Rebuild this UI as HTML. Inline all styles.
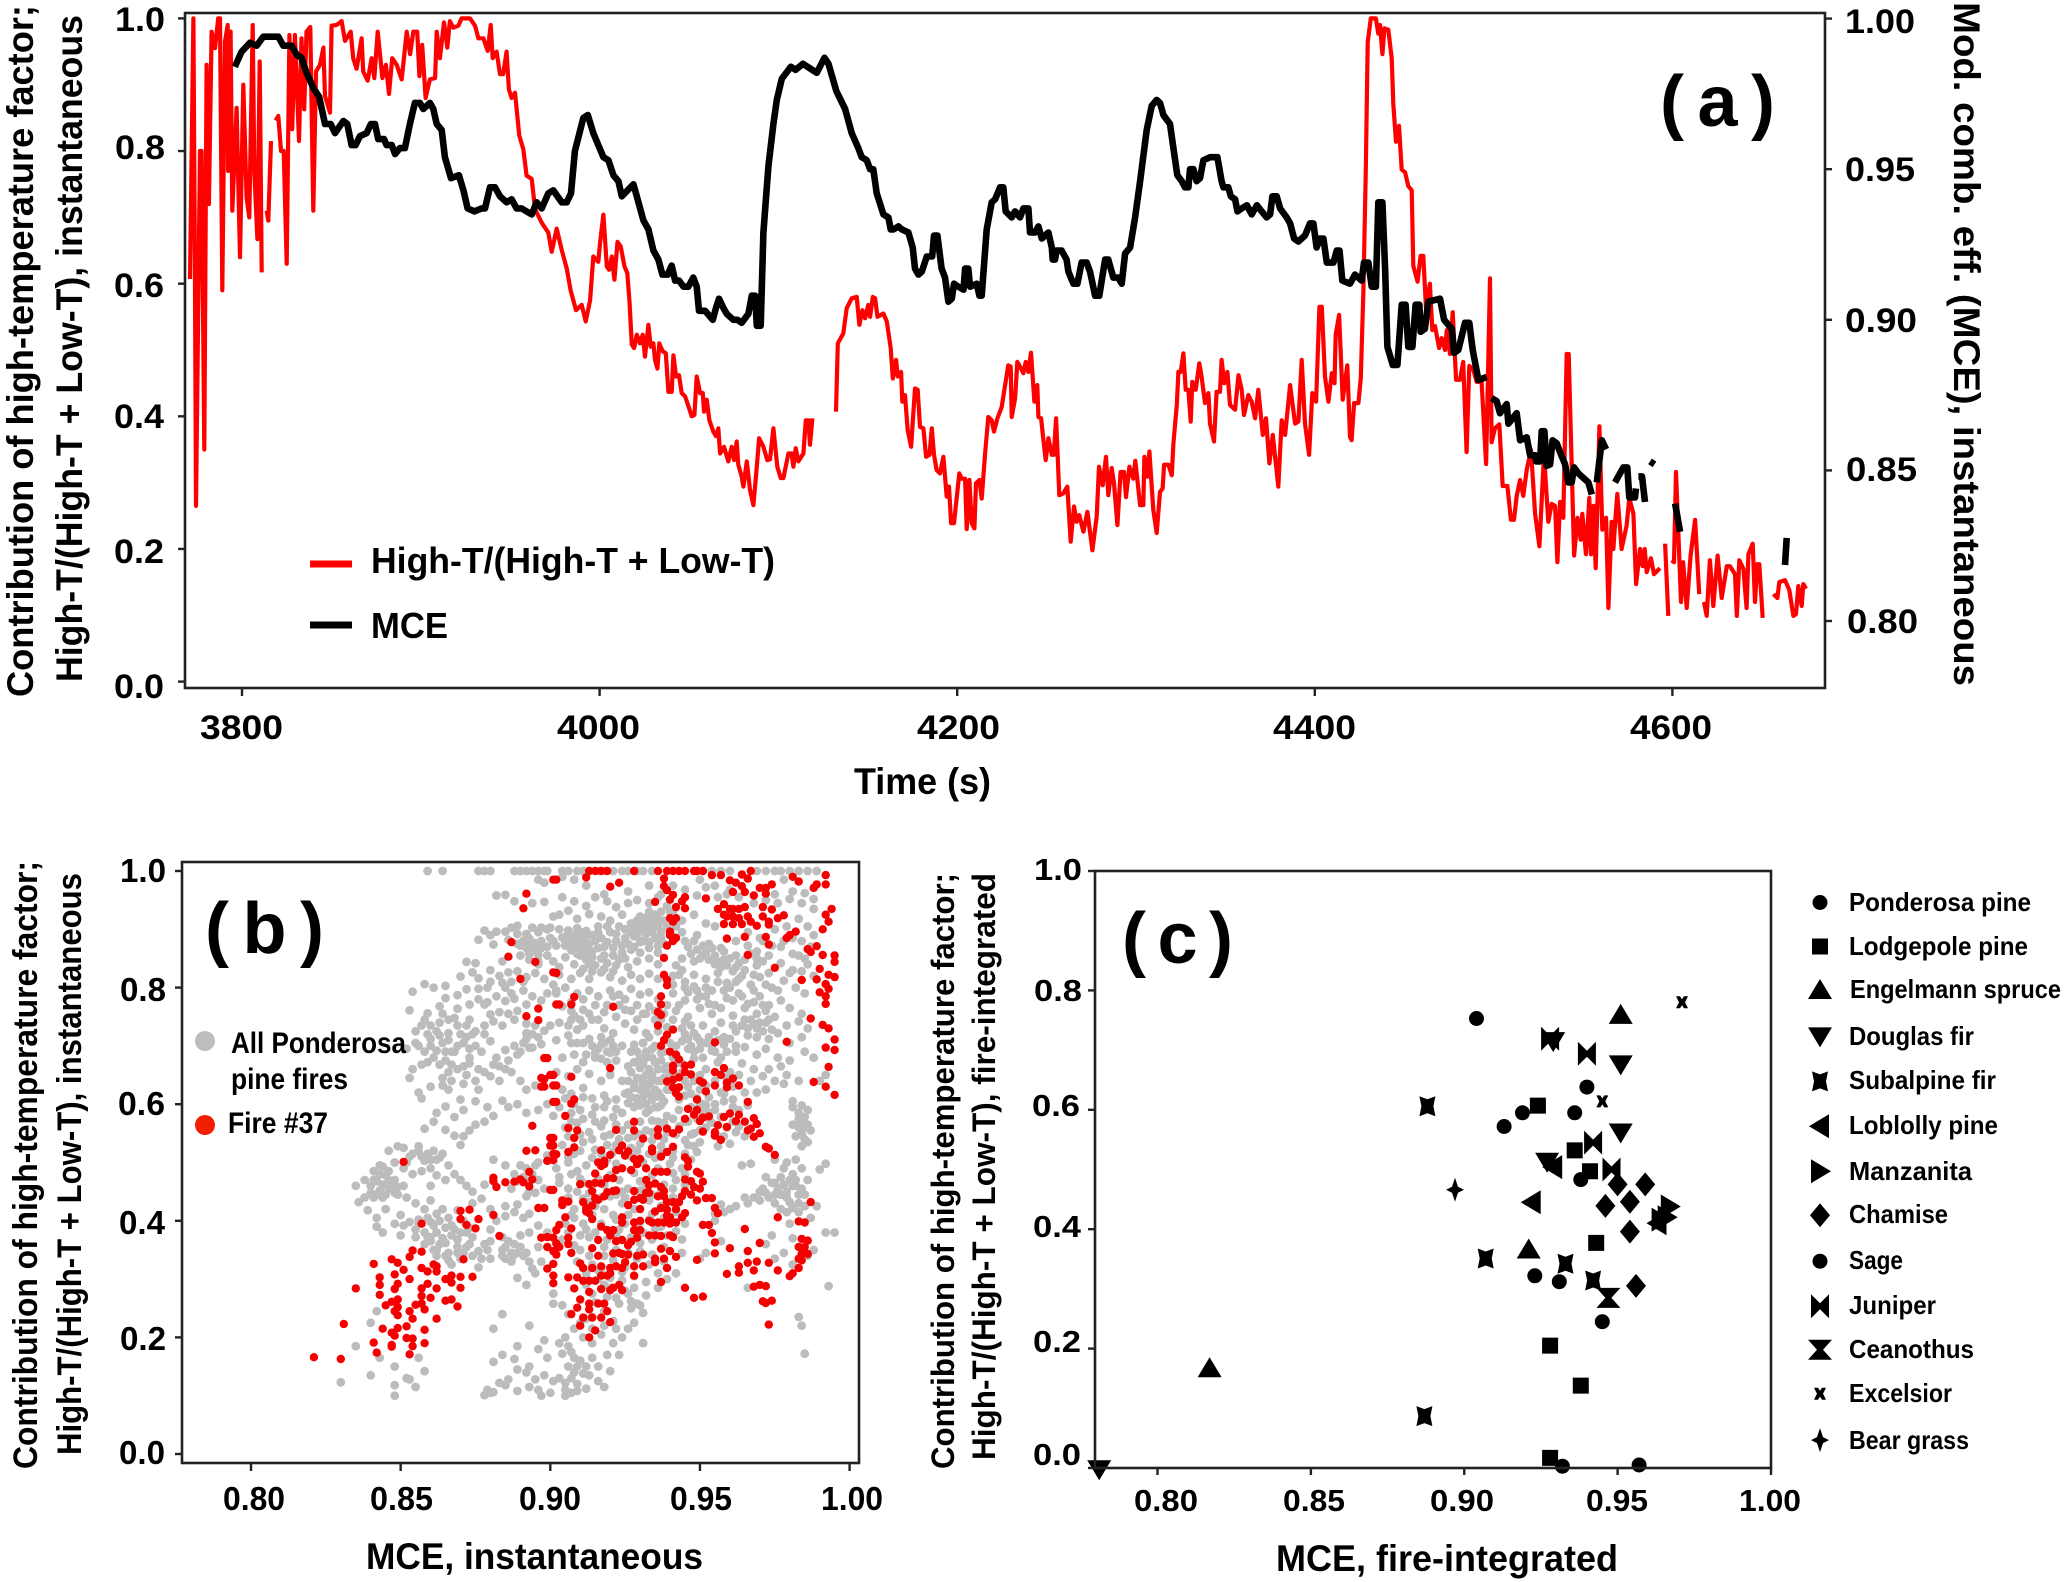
<!DOCTYPE html>
<html lang="en">
<head>
<meta charset="utf-8">
<title>High-temperature factor versus MCE</title>
<style>
html,body{margin:0;padding:0;background:#fff;}
svg{display:block;}
text{font-family:"Liberation Sans",sans-serif;font-weight:bold;fill:#000;}
.tick-a{font-size:34px;}
.tick-b{font-size:33px;}
.tick-c{font-size:31px;}
.title-a{font-size:37px;}
.title-b{font-size:34px;}
.title-c{font-size:32px;}
.xtitle{font-size:37px;}
.leg-a{font-size:36px;}
.leg-b{font-size:30px;}
.leg-c{font-size:26px;}
.panel{font-size:72px;}
</style>
</head>
<body>
<svg id="figure" xmlns="http://www.w3.org/2000/svg" width="2067" height="1582" viewBox="0 0 2067 1582">
<rect x="0" y="0" width="2067" height="1582" fill="#fff"/>
<g id="marks-a"></g>
<g id="marks-b"></g>
<g id="marks-c"></g>
<rect x="185" y="13" width="1640" height="675" fill="none" stroke="#222" stroke-width="2.6"/>
<rect x="182" y="862" width="677" height="601" fill="none" stroke="#222" stroke-width="2.6"/>
<rect x="1095" y="871" width="676" height="597" fill="none" stroke="#222" stroke-width="2.6"/>
<g id="ticks"></g>

<g>
<text class="tick-a" x="115" y="31" textLength="50" lengthAdjust="spacingAndGlyphs">1.0</text>
<text class="tick-a" x="115" y="159" textLength="50" lengthAdjust="spacingAndGlyphs">0.8</text>
<text class="tick-a" x="114" y="297" textLength="50" lengthAdjust="spacingAndGlyphs">0.6</text>
<text class="tick-a" x="114" y="428" textLength="50" lengthAdjust="spacingAndGlyphs">0.4</text>
<text class="tick-a" x="114" y="563" textLength="50" lengthAdjust="spacingAndGlyphs">0.2</text>
<text class="tick-a" x="114" y="698" textLength="50" lengthAdjust="spacingAndGlyphs">0.0</text>
</g>
<g>
<text class="tick-a" x="1845" y="33" textLength="70" lengthAdjust="spacingAndGlyphs">1.00</text>
<text class="tick-a" x="1845" y="181" textLength="70" lengthAdjust="spacingAndGlyphs">0.95</text>
<text class="tick-a" x="1845" y="332" textLength="72" lengthAdjust="spacingAndGlyphs">0.90</text>
<text class="tick-a" x="1846" y="481" textLength="71" lengthAdjust="spacingAndGlyphs">0.85</text>
<text class="tick-a" x="1847" y="633" textLength="71" lengthAdjust="spacingAndGlyphs">0.80</text>
</g>
<g>
<text class="tick-a" x="200" y="739" textLength="83" lengthAdjust="spacingAndGlyphs">3800</text>
<text class="tick-a" x="557" y="739" textLength="83" lengthAdjust="spacingAndGlyphs">4000</text>
<text class="tick-a" x="917" y="739" textLength="83" lengthAdjust="spacingAndGlyphs">4200</text>
<text class="tick-a" x="1273" y="739" textLength="83" lengthAdjust="spacingAndGlyphs">4400</text>
<text class="tick-a" x="1630" y="739" textLength="82" lengthAdjust="spacingAndGlyphs">4600</text>
</g>
<text class="title-a" transform="translate(33,697) rotate(-90)" textLength="692" lengthAdjust="spacingAndGlyphs">Contribution of high-temperature factor;</text>
<text class="title-a" transform="translate(82,682) rotate(-90)" textLength="667" lengthAdjust="spacingAndGlyphs">High-T/(High-T + Low-T), instantaneous</text>
<text class="title-a" transform="translate(1954,2) rotate(90)" textLength="684" lengthAdjust="spacingAndGlyphs">Mod. comb. eff. (MCE), instantaneous</text>
<text class="xtitle" x="854" y="794" textLength="137" lengthAdjust="spacingAndGlyphs">Time (s)</text>
<text class="panel" x="1660" y="126" textLength="115" lengthAdjust="spacing">( a )</text>
<line x1="310" y1="564" x2="352" y2="564" stroke="#f00" stroke-width="7"/>
<line x1="310" y1="625" x2="352" y2="625" stroke="#000" stroke-width="7"/>
<text class="leg-a" x="371" y="573" textLength="404" lengthAdjust="spacingAndGlyphs">High-T/(High-T + Low-T)</text>
<text class="leg-a" x="371" y="638" textLength="77" lengthAdjust="spacingAndGlyphs">MCE</text>

<g>
<text class="tick-b" x="120" y="882" textLength="46" lengthAdjust="spacingAndGlyphs">1.0</text>
<text class="tick-b" x="120" y="1001" textLength="46" lengthAdjust="spacingAndGlyphs">0.8</text>
<text class="tick-b" x="118" y="1115" textLength="47" lengthAdjust="spacingAndGlyphs">0.6</text>
<text class="tick-b" x="119" y="1234" textLength="46" lengthAdjust="spacingAndGlyphs">0.4</text>
<text class="tick-b" x="120" y="1350" textLength="46" lengthAdjust="spacingAndGlyphs">0.2</text>
<text class="tick-b" x="119" y="1464" textLength="46" lengthAdjust="spacingAndGlyphs">0.0</text>
</g>
<g>
<text class="tick-b" x="223" y="1510" textLength="62" lengthAdjust="spacingAndGlyphs">0.80</text>
<text class="tick-b" x="370" y="1510" textLength="63" lengthAdjust="spacingAndGlyphs">0.85</text>
<text class="tick-b" x="519" y="1510" textLength="62" lengthAdjust="spacingAndGlyphs">0.90</text>
<text class="tick-b" x="670" y="1510" textLength="62" lengthAdjust="spacingAndGlyphs">0.95</text>
<text class="tick-b" x="821" y="1510" textLength="62" lengthAdjust="spacingAndGlyphs">1.00</text>
</g>
<text class="title-b" transform="translate(37,1469) rotate(-90)" textLength="608" lengthAdjust="spacingAndGlyphs">Contribution of high-temperature factor;</text>
<text class="title-b" transform="translate(81,1455) rotate(-90)" textLength="582" lengthAdjust="spacingAndGlyphs">High-T/(High-T + Low-T), instantaneous</text>
<text class="xtitle" x="366" y="1569" textLength="337" lengthAdjust="spacingAndGlyphs">MCE, instantaneous</text>
<text class="panel" x="205" y="953" textLength="119" lengthAdjust="spacing">( b )</text>
<circle cx="205" cy="1041" r="10" fill="#bdbdbd"/>
<text class="leg-b" x="231" y="1053" textLength="175" lengthAdjust="spacingAndGlyphs">All Ponderosa</text>
<text class="leg-b" x="231" y="1089" textLength="117" lengthAdjust="spacingAndGlyphs">pine fires</text>
<circle cx="205" cy="1125" r="10" fill="#f31d00"/>
<text class="leg-b" x="228" y="1133" textLength="100" lengthAdjust="spacingAndGlyphs">Fire #37</text>

<g>
<text class="tick-c" x="1034" y="880" textLength="48" lengthAdjust="spacingAndGlyphs">1.0</text>
<text class="tick-c" x="1034" y="1001" textLength="48" lengthAdjust="spacingAndGlyphs">0.8</text>
<text class="tick-c" x="1032" y="1116" textLength="48" lengthAdjust="spacingAndGlyphs">0.6</text>
<text class="tick-c" x="1033" y="1237" textLength="48" lengthAdjust="spacingAndGlyphs">0.4</text>
<text class="tick-c" x="1033" y="1352" textLength="48" lengthAdjust="spacingAndGlyphs">0.2</text>
<text class="tick-c" x="1033" y="1465" textLength="48" lengthAdjust="spacingAndGlyphs">0.0</text>
</g>
<g>
<text class="tick-c" x="1134" y="1511" textLength="64" lengthAdjust="spacingAndGlyphs">0.80</text>
<text class="tick-c" x="1283" y="1511" textLength="62" lengthAdjust="spacingAndGlyphs">0.85</text>
<text class="tick-c" x="1430" y="1511" textLength="64" lengthAdjust="spacingAndGlyphs">0.90</text>
<text class="tick-c" x="1586" y="1511" textLength="62" lengthAdjust="spacingAndGlyphs">0.95</text>
<text class="tick-c" x="1739" y="1511" textLength="62" lengthAdjust="spacingAndGlyphs">1.00</text>
</g>
<text class="title-c" transform="translate(954,1469) rotate(-90)" textLength="596" lengthAdjust="spacingAndGlyphs">Contribution of high-temperature factor;</text>
<text class="title-c" transform="translate(995,1460) rotate(-90)" textLength="587" lengthAdjust="spacingAndGlyphs">High-T/(High-T + Low-T), fire-integrated</text>
<text class="xtitle" x="1276" y="1571" textLength="342" lengthAdjust="spacingAndGlyphs">MCE, fire-integrated</text>
<text class="panel" x="1122" y="963" textLength="111" lengthAdjust="spacing">( c )</text>
<g>
<text class="leg-c" x="1849" y="911" textLength="182" lengthAdjust="spacingAndGlyphs">Ponderosa pine</text>
<text class="leg-c" x="1849" y="955" textLength="179" lengthAdjust="spacingAndGlyphs">Lodgepole pine</text>
<text class="leg-c" x="1850" y="998" textLength="211" lengthAdjust="spacingAndGlyphs">Engelmann spruce</text>
<text class="leg-c" x="1849" y="1045" textLength="125" lengthAdjust="spacingAndGlyphs">Douglas fir</text>
<text class="leg-c" x="1849" y="1089" textLength="147" lengthAdjust="spacingAndGlyphs">Subalpine fir</text>
<text class="leg-c" x="1849" y="1134" textLength="149" lengthAdjust="spacingAndGlyphs">Loblolly pine</text>
<text class="leg-c" x="1849" y="1180" textLength="123" lengthAdjust="spacingAndGlyphs">Manzanita</text>
<text class="leg-c" x="1849" y="1223" textLength="99" lengthAdjust="spacingAndGlyphs">Chamise</text>
<text class="leg-c" x="1849" y="1269" textLength="54" lengthAdjust="spacingAndGlyphs">Sage</text>
<text class="leg-c" x="1849" y="1314" textLength="87" lengthAdjust="spacingAndGlyphs">Juniper</text>
<text class="leg-c" x="1849" y="1358" textLength="125" lengthAdjust="spacingAndGlyphs">Ceanothus</text>
<text class="leg-c" x="1849" y="1402" textLength="103" lengthAdjust="spacingAndGlyphs">Excelsior</text>
<text class="leg-c" x="1849" y="1449" textLength="120" lengthAdjust="spacingAndGlyphs">Bear grass</text>
</g>
</svg>

<script>
// ---------- Panel (a): time series, flat [time, value, time, value, ...] ----------
const redEarly = [3770.9,.607,3772.8,1,3773.7,.6,3774.3,.265,3776.5,.8,3777.4,.8,3778.9,.35,3780.2,.93,3781.5,.72,3783,.98,3784.9,.955,3786.7,1,3787.7,1,3789,.59,3790.5,.965,3792,.99,3792.2,.77,3793.6,.98,3794.6,.71,3797,.865,3798.9,.64,3800.7,.9,3802.6,.73,3804.1,.7,3806,.99,3806.9,.77,3808.6,.667,3809.9,.935,3811,.617];
const redShort = [3813.8,.71,3814.7,.695,3816.2,.815];
const redUpperArc = [3818.8,.846,3820.3,.853,3821.8,.8,3823.3,.8,3825,.63,3826.5,.975,3828.1,.833,3829.6,.975,3831.9,.815,3833.3,.97,3834.8,.863,3836.1,.98,3838.2,.987,3839.9,.71,3841.4,.92,3843.6,.93,3845.5,.956,3846.4,.883,3849.2,.858,3850.1,.989,3852.9,.99,3855.7,.996,3857.6,.966,3860.8,.98,3862.2,.94,3864.1,.924,3866.9,.97,3867.8,.92,3870.3,.906,3872.5,.94,3874,.91,3875.9,.98,3878.5,.91,3880.5,.93,3882.2,.886,3884,.94,3886.5,.93,3889.3,.908,3892.1,.98,3894,.946,3895.8,.98,3898,.98,3899.2,.913,3900.8,.96,3902.7,.88,3905.1,.908,3908,.91,3908.9,.98,3910.7,.94,3913,.994,3914.8,.956,3916.3,.996,3918.2,.986,3921,.989,3922.8,1,3927.5,1,3930.3,.989,3932.2,.97,3935,.97,3937.4,.951,3939.1,.99,3940.2,.94,3942.4,.95,3944.3,.916,3946.1,.916,3948,.95,3949.3,.893,3950.8,.88,3952.7,.888,3955.1,.823,3957.3,.803,3959.2,.763,3962,.758,3963.9,.712,3967.6,.692,3971.3,.677,3973.2,.648,3976,.683,3978.8,.651,3981.6,.623,3983.8,.59,3986.8,.56,3990,.568,3992.2,.543,3994.7,.575,3996.5,.641,3999.3,.633,4000.2,.661,4002.1,.704,4004,.626,4005.3,.621,4006.8,.641,4008.3,.606,4010,.663,4011.8,.656,4013.9,.626,4015.5,.616,4016.7,.573,4018,.508,4019.3,.503,4020.8,.523,4022.6,.51,4024.1,.523,4025.4,.49,4027.3,.538,4028.6,.505,4030.1,.51,4031,.485,4032.3,.472,4033.4,.51,4035.3,.498,4037,.495,4038.5,.437,4040.3,.437,4041.3,.492,4042.8,.46,4044.4,.462,4045.9,.435,4047.8,.43,4049.1,.42,4051.5,.4,4053,.402,4054.3,.46,4056.2,.435,4057.7,.435,4058.4,.407,4059.9,.425,4061.4,.394,4063.6,.377,4065.1,.37,4066.4,.382,4067.4,.344,4069.6,.354,4072,.332,4073.9,.354,4075.2,.334,4076.7,.362,4077.6,.327,4079.5,.309,4080.4,.294,4082.3,.332,4084.1,.289,4086,.266,4087.9,.324,4089.2,.367,4091.6,.354,4093.8,.334,4095.3,.335,4097.2,.382,4099.4,.324,4101.3,.307,4102.8,.307,4105.6,.344,4107.4,.344,4108.4,.324,4109.7,.352,4111.2,.332,4114,.344,4115.3,.394,4116.8,.394,4117.7,.357,4119,.397];
const redMiddle = [4132.2,.407,4133.2,.51,4136.3,.525,4138.2,.563,4141,.578,4143.8,.58,4145.3,.538,4147,.56,4148.5,.548,4150.3,.568,4151.3,.55,4152.8,.58,4154.1,.578,4155.4,.55,4158.7,.555,4160.6,.543,4162.8,.503,4164,.457,4165.8,.485,4166.7,.46,4168.6,.467,4169.3,.422,4170.8,.432,4172.3,.379,4174.2,.354,4176.4,.442,4177.9,.44,4179.2,.384,4181.1,.382,4182.6,.339,4184.5,.342,4185.8,.382,4187,.342,4188.5,.319,4190.4,.314,4192.3,.339,4194.1,.279,4195.4,.294,4196.6,.239,4198.2,.239,4201.2,.314,4202.5,.306,4204.4,.306,4205.3,.23,4206.8,.304,4208.1,.239,4209.6,.231,4210.5,.299,4212.4,.304,4213.7,.276,4215.6,.344,4217.4,.399,4219.3,.394,4220.6,.377,4222.5,.397,4224.9,.414,4226.8,.447,4228.6,.477,4229.9,.475,4230.5,.399,4232.4,.427,4233.6,.482,4235.1,.475,4237,.465,4238.3,.482,4239.8,.467,4241.3,.496,4243.2,.422,4244.8,.447,4245.4,.399,4246.9,.397,4248.2,.364,4249.5,.334,4251,.367,4252.9,.342,4254,.342,4255.3,.397,4257.1,.281,4259.4,.284,4261.6,.294,4263.5,.211,4265.3,.264,4266.8,.241,4268.3,.251,4270.6,.226,4272.8,.256,4275.6,.198,4278,.249,4279.3,.324,4281.4,.296,4283.2,.339,4284.5,.281,4286.4,.322,4287.7,.299,4289.6,.236,4291.4,.316,4293.3,.316,4294.4,.278,4296.3,.324,4298.5,.306,4299.6,.333,4302.3,.266,4304.1,.266,4304.7,.339,4306.4,.309,4307.5,.347,4309.7,.259,4311.6,.224,4313.4,.286,4314.9,.291,4315.7,.327,4318.1,.327,4320,.311,4320.9,.359,4322.8,.417,4323.7,.467,4325,.467,4326.5,.495,4327.8,.44,4329.3,.44,4330.6,.392,4331.5,.452,4333.4,.44,4335.4,.48,4336.7,.46,4338.6,.42,4340.5,.435,4341.4,.389,4343.6,.362,4345.1,.437,4347,.437,4347.9,.485,4349.4,.45,4351.1,.467,4352.6,.417,4355.4,.41,4357.3,.462,4359.1,.44,4360.4,.402,4362.8,.432,4364.7,.422,4366.6,.397,4368.4,.44,4370.9,.372,4372.7,.397,4374.6,.329,4376.5,.372,4377.8,.339,4379.6,.294,4381.5,.394,4383.4,.372,4386.2,.447,4389,.389,4390.8,.392,4392.7,.485,4394.5,.389,4396.8,.342,4398.6,.435,4400.7,.422,4402.6,.565,4403.9,.565,4405.7,.46,4407.6,.422,4409.5,.465,4411,.45,4411.7,.523,4413.6,.553,4415.6,.425,4418.2,.477,4419.7,.369,4420.6,.364,4422,.42,4424.4,.42,4425.7,.458,4427.2,.59,4428.5,.772,4429.6,.964,4431.3,1,4434.2,1,4435.5,.977,4436.5,.99,4437.8,.946,4438.9,.985,4441.1,.983,4443,.94,4443.9,.871,4445.4,.814,4447.1,.838,4448.6,.772,4450.5,.768,4452.3,.747,4454.2,.741,4455.1,.627,4457.5,.603,4459.2,.642,4460.7,.642,4462.2,.563,4464.4,.6,4465.7,.53,4467.2,.536,4469.5,.503,4471,.518,4472.8,.5,4473.8,.53,4475.6,.494,4477.1,.557,4479,.455,4481.2,.455,4483,.482,4484.9,.346,4486.4,.476,4488.7,.47,4490.5,.452,4493.3,.452,4495.8,.328,4498,.608,4498.9,.361,4500.8,.382,4503.2,.388,4505.1,.295,4507.7,.295,4509.7,.244,4511.4,.244,4512.9,.28,4514.8,.304,4516.6,.28,4518.5,.319,4520.9,.349,4523.2,.253,4525.6,.204,4528.2,.343,4530.6,.241,4532.5,.268,4534.4,.265,4535.7,.18,4537.2,.271,4539,.247,4540.9,.494,4542,.494,4545,.19,4546.9,.247,4548.7,.214,4549.6,.253,4551.7,.192,4553.5,.277,4554.5,.192,4555.8,.265,4557.1,.171,4559.2,.385,4560.8,.229,4562.9,.247,4564.2,.111,4566,.241,4567,.2,4568,.241,4569.2,.283,4571.6,.2,4574.4,.235,4575.9,.277,4578.2,.253,4579.7,.147,4581.9,.2,4583.4,.174,4584.5,.2,4585.6,.165,4588,.186,4589.7,.162,4593,.171];
const redTailA = [4595.9,.208,4597.7,.099];
const redTailB = [4599.6,.183,4600.9,.18,4602,.316,4604.8,.12,4606,.18,4608,.111,4610.2,.19,4612.7,.244,4615,.132];
const redTailC = [4617.7,.12,4619.2,.099,4621,.183,4622.9,.114,4625.3,.19,4627.6,.126,4630.4,.174,4632.2,.174,4635,.162,4636,.099,4637.4,.183,4639.7,.17,4641.5,.111,4642.5,.192,4644.9,.208,4646.2,.12,4647.5,.177,4648.6,.177,4650.5,.096];
const redTailD = [4656.5,.132,4658.7,.126,4659.8,.15,4663,.153,4665.4,.138,4667.7,.099,4669.1,.102,4670.4,.144,4672.3,.114,4673.2,.147,4674.7,.14];
const redSegments = [redEarly, redShort, redUpperArc, redMiddle, redTailA, redTailB, redTailC, redTailD];

const mceMain = [3796,.984,3799.8,.989,3804.5,.992,3808.2,.991,3811.9,.994,3820.3,.994,3823.1,.991,3827.8,.991,3830.6,.988,3833.3,.987,3836.1,.982,3839.9,.977,3843.2,.974,3846.4,.965,3849.6,.965,3852,.962,3856.7,.966,3858.9,.965,3861.3,.958,3863.5,.958,3866,.961,3869.7,.962,3872.1,.965,3874.4,.965,3876.2,.96,3879.4,.96,3880.9,.958,3883.7,.958,3885.6,.955,3888.3,.957,3891.1,.957,3893.9,.965,3896.7,.972,3899.5,.972,3901.4,.97,3905.1,.972,3907,.97,3908.9,.965,3911.7,.963,3913.5,.954,3916.9,.947,3921.3,.948,3923.8,.943,3926.2,.937,3929.9,.936,3934,.937,3935.9,.937,3938.7,.944,3941.5,.944,3944.3,.941,3948,.939,3950.8,.94,3953.6,.937,3956.4,.937,3962,.935,3964.8,.939,3967.6,.937,3971.3,.942,3974.1,.943,3978.8,.939,3981.6,.939,3984,.942,3986.2,.956,3990.9,.967,3993.4,.968,3996.5,.962,3999.3,.958,4002.1,.954,4004.9,.953,4007.7,.948,4010.5,.946,4012.4,.941,4018.9,.945,4020.8,.941,4024.5,.933,4027.3,.93,4030.1,.923,4032.9,.92,4035.1,.915,4038.1,.915,4040.3,.918,4042.2,.913,4044.4,.913,4046.9,.911,4049.6,.911,4052.4,.914,4054.3,.911,4055.6,.903,4059,.903,4063.3,.9,4065.1,.904,4066.8,.907,4069.2,.904,4071.1,.902,4074.8,.9,4077.1,.9,4079.5,.899,4083.2,.902,4085.1,.908,4087,.908,4087.9,.898,4090.1,.898,4091.6,.929,4094.4,.951,4097.2,.965,4099.1,.973,4101.9,.98,4107,.984,4109.6,.983,4113.7,.985,4121.5,.982,4125.8,.987,4128,.985,4132.4,.976,4137.3,.97,4141,.962,4144.7,.957,4146.6,.954,4149.4,.953,4151.3,.95,4153.1,.95,4155,.942,4158.7,.935,4161.5,.934,4162.8,.93,4164.3,.93,4167.1,.931,4169,.93,4172.7,.929,4175.1,.924,4176.4,.917,4178.3,.915,4180.2,.916,4183,.921,4186,.921,4187,.928,4188.9,.928,4191.3,.917,4193.2,.914,4195.1,.906,4197,.907,4198.2,.912,4200.6,.911,4203.5,.91,4204.4,.917,4206.2,.917,4207.2,.911,4210.9,.912,4212.4,.908,4213.7,.908,4216.5,.93,4219.3,.939,4221.2,.94,4224,.944,4225.8,.944,4227.1,.936,4230.5,.934,4232.3,.936,4235.1,.934,4237,.937,4239.8,.937,4240.7,.929,4243.5,.929,4245.4,.931,4247.3,.927,4251,.929,4252.9,.924,4253.4,.92,4254.7,.92,4255.6,.923,4258.4,.923,4261.2,.92,4262.2,.916,4265,.912,4267.2,.912,4269.6,.919,4272.4,.919,4274.3,.916,4277.1,.908,4279.5,.908,4282.7,.92,4284.5,.92,4287.3,.914,4290.1,.914,4292,.912,4293.9,.922,4296.7,.924,4299.5,.934,4302.3,.946,4306,.963,4308.8,.971,4311.6,.973,4313.4,.972,4315.3,.968,4319,.965,4320.9,.957,4323.1,.948,4325.6,.946,4327.4,.944,4329.3,.944,4330.2,.95,4332.1,.95,4333.9,.946,4335.8,.947,4337.7,.953,4341.4,.954,4343.3,.954,4345.5,.954,4347.9,.946,4348.9,.944,4351.6,.944,4353,.941,4355.4,.94,4356.7,.936,4359.1,.937,4362,.938,4364.7,.935,4367.6,.938,4370.3,.936,4373.1,.934,4375,.935,4376.3,.941,4378.7,.941,4380.6,.937,4384.3,.934,4386.2,.932,4388.4,.927,4390.8,.926,4394.5,.928,4397.3,.932,4399.2,.932,4401,.924,4402.9,.927,4404.8,.927,4406.7,.919,4410.4,.919,4412.3,.923,4413.8,.923,4415.4,.913,4419.7,.912,4422.5,.915,4426.2,.913,4427.5,.919,4430,.919,4431.8,.911,4434.2,.911,4435.5,.939,4437.8,.939,4439.3,.917,4440.6,.891,4443.6,.885,4446.2,.885,4448.6,.905,4450.8,.905,4452.3,.891,4454.6,.891,4456.4,.905,4458.5,.905,4459.2,.896,4461.6,.897,4463.5,.906,4470,.907,4472.3,.9,4476.6,.897,4477.9,.889,4480.3,.89,4484,.899,4486.4,.899,4488.3,.89,4491.5,.88,4496.1,.881];
const mceLowerRun = [4498.9,.874,4501.7,.873,4503.6,.869,4507.3,.872,4508.3,.8655,4512.9,.869,4514.8,.86,4518.5,.861,4520.4,.855,4523.2,.855,4523.8,.853,4526,.853,4526.9,.863,4528.4,.863,4529.7,.8515,4531.6,.852,4533,.86,4535.3,.859,4537.2,.856,4540,.852,4541.8,.846,4543.7,.846,4545,.851,4547.4,.849,4549.3,.848,4553,.846,4554.9,.842];
const mceSpike = [4557.7,.846,4560.5,.86,4562.9,.857];
const mceFragmentA = [4567.9,.846,4572.6,.851,4574.8,.851,4575.9,.841,4579.1,.841,4579.6,.844];
const mceFragmentB = [4581,.848,4583,.848,4584.7,.8395];
const mceFragmentC = [4587.5,.853,4590,.852];
const mceFragmentD = [4601.5,.839,4604.3,.8296];
const mceFragmentE = [4663.9,.8276,4663,.8186];
const mceSegments = [mceMain, mceLowerRun, mceSpike, mceFragmentA, mceFragmentB, mceFragmentC, mceFragmentD, mceFragmentE];

// ---------- Panel (b): flat [MCE x1000, fraction x1000, ...] ----------
const grayTopRow = [859,1000,864,1000,876,1000,878,1000,880,1000,888,1000,890,1000,892,1000,894,1000,896,1000,898,1000,899,1000,904,1000,906,1000,909,1000,911,1000,913,1000,916,1000,918,1000,921,1000,924,1000,926,1000,929,1000,931,1000,934,1000,951,1000,954,1000,957,1000,960,1000,969,1000,972,1000,975,1000,977,1000,980,1000,983,1000,986,1000,989,1000,896,985,898,980,904,990,908,985,912,975,918,960,926,965,933,975,937,960,950,985,955,975,959,960,975,960,978,985,981,965,985,962,988,952];
const grayUpperLeft = [854,793,858,806,861,800,865,803,853,761,859,756,865,782,863,768,864,755,869,787,872,797,874,826,872,844,875,842,870,819,876,816,879,800,876,780,878,771,869,764,873,771,873,745,878,735,880,754,883,758,885,777,888,781,892,771,888,745,892,722,894,697,897,703,893,697,890,690,898,726,900,735,882,958,885,959,888,948,894,945,898,947,901,922,878,898,876,882,882,896,885,896,887,903,889,906,894,903,897,903,900,903,881,874,890,872,892,868,894,862,896,856,890,855,893,848,896,845,899,870,901,880,884,845,880,830,883,820,886,826,889,828,892,818,895,825,898,815,901,805,885,800,887,790,891,795,894,785,897,778,899,790,902,795,882,785,856,700,852,695,855,705,858,690,860,712,863,718,866,722,869,700,872,715,875,700,877,690,880,708,882,680,885,693,888,700,891,705,860,735,863,740,866,745,869,735,858,745,855,725,857,668,854,660,853,645,856,620,857,610,860,630,864,645,866,625,869,660,872,650,875,640,878,655,880,648,883,640,885,660,887,655,890,640,892,625,895,632,863,668,867,690,873,670,884,606,870,608,871,590,868,578,865,596,862,585,861,570,858,558,875,605,879,595,881,580,878,570,875,565,873,555,871,545,886,595,889,600,892,585,896,590,899,600,901,580,865,556,868,546,870,530];
const grayMidLeft = [844,493,846,520,849,528,851,525,853,510,856,520,858,503,860,490,862,505,864,515,866,495,868,480,870,470,872,460,874,450,865,470,862,478,860,460,857,485,854,480,851,490,848,500,845,478,843,480,841,470,840,460,842,445,844,440,846,455,849,445,852,440,855,430,851,460,848,470,835,460,838,470,841,485,843,495,846,485,838,440,836,432,839,418,842,405,845,420,850,410,853,398,848,395,842,390,856,402,860,398,862,412,864,420,866,405,869,418,871,400,873,388,874,372,872,380,868,385,865,388,862,380,858,380,855,385,851,392,858,420,860,435,844,380,850,375,855,372,860,365,865,362,869,368,872,355,866,345,862,350,858,360,862,340,866,332,869,345,874,340,876,348,880,335,884,340,887,332,889,345,893,330,890,355,885,355,880,365,884,372,890,375,893,380,896,392,880,420,885,425,889,428,892,442,895,448,898,455,893,468,888,480,890,495,892,490,894,480,896,500,899,512,881,505,885,495,877,438,874,430,878,462];
const grayLowLeft = [835,185,830,123,840,135,848,150,853,128,856,165,858,142,855,115,852,130,843,165,848,118,842,245,840,225,848,100,886,128,883,122,881,106,879,110,878,101,880,105,889,145,892,140,893,150,895,128,893,115,896,110,898,135,901,125,903,130,905,110,909,120,912,112,907,105,905,100,900,105,897,100,889,108,885,118,884,240,881,215,889,185,893,220,898,195,899,165,884,170,881,158,888,163,896,180,895,310,892,290,889,302,887,330,884,350,879,350,876,320,888,360,892,345,896,355,899,380,897,330,901,275,901,258,904,255,906,240,908,215,905,200,903,190,907,175,910,160,912,150,908,140,913,135,918,115,916,125,920,142,919,170,914,190,917,205,921,190,923,170,912,232,924,200,926,215,927,250,925,280,929,258,931,242,928,225,931,190];
const grayCoreHigh = [904,955,908,948,912,940,915,955,919,948,922,938,926,945,929,950,933,945,936,955,903,925,906,932,909,918,913,926,917,922,920,915,924,925,927,910,930,922,933,930,936,918,903,900,906,892,909,902,912,888,916,895,919,905,922,892,925,900,928,888,931,898,934,905,937,885,902,872,905,880,908,868,911,875,914,862,918,870,921,855,924,872,927,865,930,878,933,868,936,872,901,845,905,852,908,840,912,848,915,838,919,842,923,848,926,835,929,845,933,850,936,840,903,822,907,815,910,825,913,815,917,826,920,818,924,812,927,822,930,815,933,824,936,815,902,790,905,800,909,790,913,795,916,785,920,795,923,788,927,798,930,788,933,792,936,780,904,768,907,775,911,762,915,770,918,758,922,750,925,762,929,770,932,755,935,745,938,755,903,740,907,745,911,735,914,745,918,730,921,722,925,738,928,728,932,722,936,725,939,732,902,710,906,718,909,705,913,712,917,702,920,710,924,700,927,690,931,705,934,695,937,688,904,680,908,685,911,672,915,680,919,690,922,675,926,665,929,672,932,680,935,672,938,660,941,680,902,655,906,648,909,660,913,652,917,640,920,650,924,640,928,635,931,645,934,650,937,640,940,625,904,625,907,618,911,628,914,610,918,615,922,608,925,618,929,610,932,625,935,612,938,605];
const grayCoreLow = [903,595,907,585,910,590,914,582,918,595,921,578,924,585,928,595,932,585,936,595,939,580,943,590,905,560,909,568,913,552,917,562,920,548,924,555,928,545,932,555,936,570,939,552,943,562,947,548,904,530,908,515,911,535,915,522,919,530,923,540,927,525,930,532,934,538,937,528,941,520,945,538,948,528,902,490,906,500,909,485,912,495,919,505,922,498,927,510,931,500,935,508,940,498,944,490,947,505,903,465,906,455,910,472,913,448,918,462,923,470,926,455,930,468,934,478,938,462,942,470,945,480,904,430,908,420,911,438,915,425,920,442,924,430,928,420,933,435,937,425,941,440,905,395,908,405,912,385,917,395,921,410,925,395,929,385,933,402,937,390,942,382,904,368,908,358,913,372,918,355,922,375,926,362,930,348,934,368,938,355,909,330,913,340,917,318,921,332,925,320,929,335,933,325,936,310,939,300,912,290,916,300,920,285,924,298,928,285,932,272,915,260,919,270,923,258,927,262,910,225,914,235,918,245,921,228];
const grayUpperRight = [941,975,945,968,949,958,952,972,956,955,960,968,963,955,968,945,972,950,976,945,980,952,984,945,988,935,941,930,944,915,948,925,952,910,955,905,966,895,970,885,975,900,979,905,983,918,986,905,988,890,941,888,945,880,949,890,953,875,957,868,962,880,966,872,969,862,973,855,977,870,981,858,985,850,944,850,948,845,951,855,955,840,958,848,962,835,965,830,969,838,973,825,977,842,981,830,984,828,941,820,945,810,948,822,952,815,956,825,959,808,963,815,967,805,970,818,974,800,978,812,982,800,985,790,941,790,945,778,949,795,952,785,955,770,959,782,963,790,966,772,970,785,973,770,977,778,980,765,984,755,942,760,946,750,950,765,954,755,957,740,961,752,965,745,969,755,972,740,975,750,979,735,983,742,986,730,944,730,948,722,951,735,955,725,958,715,962,725,966,718,969,730,973,712,976,722,980,705,984,715,942,700,946,695,950,708,954,692,958,702,962,690,965,698,969,685,972,695,976,680,980,675,985,690,992,650,988,680,944,670,948,678,952,660,956,672,960,655,964,670,968,660,971,648,975,640,979,650,983,640,990,640];
const grayRightColumn = [945,640,950,625,953,612,958,618,961,608,943,608,947,595,951,585,955,600,946,570,950,555,954,568,958,545,962,552,965,545,950,535,956,528,960,532,981,605,984,598,983,585,985,578,986,565,987,555,981,565,984,548,986,535,992,498,990,488,992,380,995,380,993,288,983,235,984,220,985,172,975,505,979,500,982,505,978,490,981,480,984,490,986,470,977,475,974,465,971,455,975,445,979,450,982,460,985,445,980,432,975,430,970,435,966,430,962,425,958,415,955,400,952,345,950,335,964,495,967,498,957,365,944,345,942,310,966,285,981,370,989,425,987,405,983,415,980,395,978,345,974,375,972,360,975,335,981,325,988,350,986,340];
const grayDenseUpper = [904,886,905,872,906,898,907,878,907,864,908,890,909,880,909,858,910,895,910,870,911,885,912,862,912,897,913,875,914,890,914,852,915,880,916,868,916,905,917,885,918,855,919,878,920,895,921,868,922,880,923,905,924,860,925,885,926,875,927,895,928,905,928,870,929,915,929,890,930,900,930,860,931,910,931,880,932,920,932,892,933,905,933,878,934,915,934,895,935,925,935,885,936,905,936,860,937,930,937,895,938,915,938,875,939,940,939,905,940,890,940,930,910,855,913,840,917,850,922,838,925,850,899,900,900,885,897,880,895,870,893,858,892,880,896,840,899,855,903,835,911,832,914,828,918,832,921,828,942,905,944,895,946,870,947,858,948,880,949,865,950,850,951,872,952,860,953,848,954,868,955,855,956,845,957,835,958,862,959,838,960,850,961,828,962,855,963,842,964,820,965,848,967,858,968,822,969,850,971,845,942,838,944,830,946,792,948,802,950,785,952,800,954,795,956,810,958,795,960,800,962,810,964,785,968,795,972,805,976,795,980,825,983,855,986,840,988,820,971,880,974,872,978,880,981,885,984,880,987,870];
const grayDenseCentre = [928,702,929,690,930,680,930,662,931,705,931,670,932,650,932,690,933,715,933,660,934,640,934,680,935,700,935,625,936,660,936,640,937,675,937,612,938,645,938,690,939,625,939,665,940,705,940,650,926,640,926,620,927,655,927,612,928,628,928,672,929,645,929,600,930,625,931,612,931,635,932,600,933,618,933,635,934,608,935,595,936,620,937,598,914,700,915,688,916,695,917,678,917,715,918,705,919,672,920,688,921,700,922,690,912,685,911,705,907,705,906,735,908,752,909,728,910,745,907,760,911,780,913,755,916,745,919,770,921,785,923,770,925,780,927,760,929,745,931,755,933,768,935,760,937,745,939,770,941,745,943,770,945,742,947,735,944,708,945,720,946,712,947,700,948,690,949,715,950,695,951,680,952,705,953,715,954,700,955,690,956,710,957,680,959,690,960,712,961,735,962,700,964,735,966,730,967,745,968,738,969,715,970,740,971,725,972,760,973,745,974,728,971,770,968,775,965,765,961,778,957,765,953,772,949,780,945,800,943,822,941,805,942,670,943,648,944,655,945,615,946,630,947,618,948,640,949,610,950,650,951,600,952,632,953,575,955,640,957,620,959,645,961,630,963,650,965,620,967,640,969,620,972,625,973,660,977,665,978,635];
const grayDenseLower = [905,610,908,600,911,612,915,595,919,605,922,592,926,602,930,598,933,590,907,570,911,575,915,570,918,572,922,565,926,565,930,570,934,572,938,568,941,575,945,570,949,575,906,545,910,548,914,540,918,545,922,530,926,542,930,548,934,552,938,540,942,548,946,530,906,510,910,520,914,508,917,515,921,518,925,512,929,520,933,515,937,515,941,508,945,515,949,518,903,475,907,480,911,465,916,472,920,478,924,450,928,482,932,462,936,490,941,482,945,462,906,440,909,450,913,432,917,440,922,445,925,440,930,452,934,445,937,450,941,455,907,410,911,395,914,410,918,420,922,402,926,410,930,398,934,412,938,405,942,415,945,395,906,380,910,375,915,380,919,368,923,385,927,372,931,380,935,385,939,375,944,368,910,350,914,325,918,340,922,350,926,345,930,362,934,342,938,330,912,310,916,315,920,302,924,312,928,305,932,295,936,285,914,275,918,290,922,268,926,275,930,255,918,220,922,215,914,215,911,200,908,165,906,185,904,172,906,150,909,150,911,138,914,165,916,150,905,122,907,130,909,108];
const grayDenseLeft = [860,700,862,692,864,705,866,710,868,690,870,720,871,705,873,695,874,720,862,725,865,690,859,720,857,735,868,748,872,735,875,725,878,720,861,680,859,672,865,675,867,668,871,665,873,680,876,660,866,655,864,632,867,640,871,635,876,625,881,668,883,665,886,675,889,685,892,712,894,720,896,715,895,735,892,738,889,760,886,755,884,735,881,742,879,775,876,798,880,810,884,808,887,810,891,810,889,875,891,880,893,884,895,876,897,868,894,878,896,895,892,892,889,892,886,882,880,890,846,470,844,462,842,468,843,452,845,445,847,462,848,448,840,448,841,440,849,458,852,500,854,515,856,528,857,510,859,515,860,505,861,520,863,508,856,395,859,405,861,392,863,400,867,392,870,380,860,372,864,370,867,375,869,355,871,345,873,360,870,335,867,325,865,340,863,360,861,350,859,372,877,335,878,360,885,335,887,345,886,365,888,342,891,340,894,318,880,385,882,400,885,408,888,415,891,405,893,412,887,455,889,468,891,475,893,450,896,470,895,495];
const grayDenseRight = [981,595,983,575,984,570,985,560,986,590,983,560,985,540,984,528,982,545,980,470,981,460,982,470,983,445,978,462,977,445,976,455,975,465,972,448,973,440,979,440,984,455,981,422,979,415,977,420,983,430,985,425,972,475,970,450,968,440,965,440,960,420,957,428,955,412,953,585,957,578,961,570,963,562,959,560,956,545,952,560,963,590,966,598,948,550,950,600,952,598,955,590,958,605,961,595];

const redTop = [913,1000,915,1000,917,1000,919,1000,928,1000,936,1000,939,1000,941,1000,943,1000,945,1000,948,1000,949,1000,951,1000,954,993,957,993,902,985,912,989,920,973,923,980,938,987,938,974,939,967,941,959,940,951,945,955,944,948,942,938,945,936,935,947,952,953,940,919,942,919,941,913,940,896,940,890,942,885,941,880,939,872,938,851,938,822,939,813,939,804,937,785,937,771,936,758,937,753,936,735];
const redDiagonal = [941,728,939,719,938,710,937,700,940,690,942,685,943,677,945,666,947,668,941,666,941,658,945,655,943,646,941,642,939,639,947,651,950,640,951,637,952,622,955,632,941,629,943,629,942,619,943,613,949,608,955,655,957,650,958,662,961,644,959,637,959,629,963,632,966,604,946,592,945,575,948,582,949,590,951,577,953,579,950,571,951,553,955,552,956,564,959,561,958,578,960,584,963,582,962,571,965,570,968,576,969,566,967,558,966,555,970,550,968,544,957,539,955,546,972,527,973,524,975,513];
const redCoreUpper = [928,570,928,555,922,556,931,541,936,546,936,557,939,558,941,550,943,557,941,527,939,518,937,510,934,524,934,519,924,529,923,521,926,519,925,512,917,521,920,513,918,503,916,500,917,494,918,497,924,490,922,487,928,506,930,506,929,497,932,490,927,487,915,481,915,465,913,463,910,463,919,473,921,473];
const redCoreLower = [911,432,912,422,913,413,914,403,912,416,914,426,915,439,916,436,918,442,919,449,921,451,922,452,914,451,917,464,917,390,919,384,920,375,921,384,924,406,924,397,926,427,928,436,928,451,928,397,928,384,930,400,930,420,931,436,930,439,932,470,933,461,932,448,933,448,935,484,937,484,939,484,935,464,937,458,938,451,936,442,938,442,939,432,937,422,935,416,939,419,941,432,943,432,942,420,945,413,944,406,940,406,939,409,933,400,934,397,936,397,938,397,940,395,942,397,930,384,933,375,935,375,937,374,940,375,941,372,927,364,929,371,926,358,924,367,922,365,921,344,923,345,924,343,926,342,929,340,931,342,935,335,937,352,940,348,942,338,938,335,935,329,939,319,928,322,931,322,925,329,924,319,922,322,920,319,917,322,914,319,911,319,920,310,919,306,917,306,915,297,913,297,911,297,909,303,906,303,910,327,916,340,914,353,916,367,907,345,906,360,906,371,907,387,928,306,923,290,921,285,924,281,920,281,917,283,913,278,908,284,910,265,913,258,916,258,918,258,909,251,907,240,913,248,911,234,914,234,917,234,919,245,920,226,910,220,915,212,913,200,937,295,945,285,948,268,951,270];
const redCoreRight = [945,509,946,503,946,493,949,484,950,481,945,471,947,468,951,467,948,458,950,455,945,451,944,442,947,445,949,435,952,439,954,439,955,422,956,413,951,393,953,393,954,379,955,363,955,344,960,353,949,333,965,386,970,362,966,348,973,328,969,330,966,328,963,322,963,311,968,315,959,309,976,315,968,287,970,290,972,288,971,262,972,259,974,263,973,222,976,406,987,432,983,399,985,397,984,369,986,366,983,355,985,355,984,343,986,343,983,335,984,332,983,319,981,310,980,305];
const redRightColumn = [992,993,992,977,989,977,988,971,994,935,992,925,993,913,991,900,989,871,986,866,987,861,991,856,995,855,995,844,990,832,989,814,984,813,993,822,995,818,992,806,993,798,990,792,992,785,992,772,987,747,991,736,993,730,995,711,992,697,995,693,993,664,988,638,992,630,995,616,979,707,955,706,975,834,966,856];
const redTopRight = [981,990,983,982,974,977,972,961,972,971,970,971,967,1000,964,994,966,987,960,984,962,980,964,974,961,964,965,964,968,958,956,935,958,943,960,935,961,935,963,935,958,925,959,922,961,922,963,919,958,909,961,909,965,938,964,909,966,922,967,913,969,906,971,938,971,922,973,913,973,908,974,934,976,919,978,924,965,887,959,884,972,887,973,874,979,885,980,890,982,896];
const redMidLeft = [902,825,908,784,907,771,903,771,921,767,899,679,920,662,901,650,907,647,902,632,898,643,898,630,902,604,908,608,907,601,905,580,906,559,909,555,901,542,908,542,901,529,908,526,906,518,902,514,901,504,899,503,901,453,904,435,906,433,904,427,898,422,905,406,903,393,902,384,901,371,899,372,902,361,899,355,901,348,903,355,902,342,901,326,899,318,901,306,901,293,901,985,892,961,891,936,887,878,886,853,895,844,901,826,890,815,902,771,896,764,892,751,896,744,898,679,897,645,900,650,901,632,897,630,901,604,894,563,900,542,900,529,892,520,895,521,901,515,899,503,851,501,893,484,881,474,881,468,882,458,885,466,888,467,890,471,891,466,894,471,893,459,900,453,896,422,881,410,873,419,870,417,870,403,872,393,876,403,875,387,883,374,897,371,857,395];
const redLowerLeft = [857,347,854,349,853,338,847,334,849,328,841,326,851,316,848,308,843,303,853,300,843,290,849,292,848,283,835,284,843,273,845,255,847,261,849,265,849,252,848,245,849,238,853,245,854,232,855,256,852,219,849,216,844,215,847,208,848,203,841,191,847,187,847,184,842,174,852,199,854,198,854,185,858,190,853,171,858,213,862,232,857,284,859,292,862,284,857,271,860,268,857,258,858,248,865,263,867,265,869,253,870,285,865,300,867,306,870,304,874,304,862,313,862,322,861,325,859,313,857,319,871,334,867,294,831,223,821,166,830,163];

// ---------- Panel (c): flat [MCE, fraction, ...] per fuel ----------
const ponderosaPine = [.904,.753,.940,.638,.936,.595,.919,.595,.913,.572,.938,.483,.932,.003,.957,.005];
const lodgepolePine = [.924,.607,.936,.532,.941,.497,.943,.377,.928,.205,.938,.138,.928,.017];
const engelmannSpruce = [.951,.759,.921,.366,.817,.167];
const douglasFir = [.929,.715,.951,.676,.951,.562,.927,.513,.781,-.002];
const subalpineFir = [.888,.606,.907,.351,.933,.342,.942,.314,.887,.087];
const loblollyPine = [.929,.504,.922,.445,.963,.41];
const manzanita = [.967,.438,.964,.416,.966,.42];
const chamise = [.959,.475,.950,.475,.954,.446,.946,.439,.954,.396,.956,.305];
const sage = [.923,.322,.931,.312,.945,.245];
const juniper = [.940,.694,.928,.719,.948,.50,.942,.545];
const ceanothus = [.947,.285];
const excelsior = [.971,.78,.945,.614];
const bearGrass = [.897,.466];

// ---------- Axis tick values ----------
const timeTicks = [3800,4000,4200,4400,4600];
const fractionTicks = [0,.2,.4,.6,.8,1];
const mceRightTicks = [.8,.85,.9,.95,1];
const mceBottomTicks = [.8,.85,.9,.95,1];

// ---------- Axis functions ----------
const xA = t => 242 + (t - 3800) * 1.788;
const yA = v => 681.6 - 663.2 * v;
const yM = m => 621 - (m - .8) * 3012;
const xB = m => 251 + (m - .8) * 2993;
const yB = v => 1454 - 583 * v;
const xC = m => 1157.5 + (m - .8) * 3067.5;
const yC = v => 1468 - 597 * v;

const NS = 'http://www.w3.org/2000/svg';
function make(tag, parent, attrs) {
  const el = document.createElementNS(NS, tag);
  for (const k in attrs) el.setAttribute(k, attrs[k]);
  parent.appendChild(el);
  return el;
}
const marksA = document.getElementById('marks-a');
const marksB = document.getElementById('marks-b');
const marksC = document.getElementById('marks-c');
const tickLayer = document.getElementById('ticks');

function drawLine(flat, yFn, color, width, name) {
  let d = '';
  for (let i = 0; i < flat.length; i += 2) {
    d += (i ? 'L' : 'M') + xA(flat[i]).toFixed(1) + ',' + yFn(flat[i + 1]).toFixed(1);
  }
  const el = make('path', marksA, {d: d, fill: 'none', stroke: color, 'stroke-width': width, 'stroke-linejoin': 'round', 'stroke-linecap': 'butt'});
  
  
}
redSegments.forEach(s => drawLine(s, yA, '#f00', 4.2, 'high-t-fraction-line'));
mceSegments.forEach(s => drawLine(s, yM, '#000', 6.6, 'mce-line'));

function drawDots(flat, color, r, name) {
  for (let i = 0; i < flat.length; i += 2) {
    const el = make('circle', marksB, {cx: xB(flat[i] / 1000).toFixed(1), cy: yB(flat[i + 1] / 1000).toFixed(1), r: r, fill: color});
    
    
  }
}
[grayTopRow, grayUpperLeft, grayMidLeft, grayLowLeft, grayCoreHigh, grayCoreLow, grayUpperRight, grayRightColumn, grayDenseUpper, grayDenseCentre, grayDenseLower, grayDenseLeft, grayDenseRight].forEach(s => drawDots(s, '#bcbcbc', 4.4, 'all-ponderosa-point'));
[redTop, redDiagonal, redCoreUpper, redCoreLower, redCoreRight, redRightColumn, redTopRight, redMidLeft, redLowerLeft].forEach(s => drawDots(s, '#f50000', 4.2, 'fire-37-point'));

const shapes = {
  up: 'M0,-11L12,9L-12,9Z',
  down: 'M0,11L12,-9L-12,-9Z',
  left: 'M-11,0L9,-12L9,12Z',
  right: 'M11,0L-9,-12L-9,12Z',
  diamond: 'M0,-12L10,0L0,12L-10,0Z',
  square: 'M-8,-8L8,-8L8,8L-8,8Z',
  subalpine: 'M-8,-10L0,-7L8,-10L6,0L8,10L0,7L-8,10L-6,0Z',
  juniper: 'M-9,-12L0,-3L9,-12L9,12L0,3L-9,12Z',
  ceanothus: 'M-12,-10L12,-10L3,0L12,10L-12,10L-3,0Z',
  excelsior: 'M-6,-6L-2,-6L0,-3L2,-6L6,-6L3,0L6,6L2,6L0,3L-2,6L-6,6L-3,0Z',
  star: 'M0,-12L3,-3L9,0L3,3L0,12L-3,3L-9,0L-3,-3Z'
};
function drawMarker(kind, cx, cy, name) {
  let el;
  if (kind === 'circle') {
    el = make('circle', marksC, {cx: cx.toFixed(1), cy: cy.toFixed(1), r: 7.5, fill: '#000'});
  } else {
    el = make('path', marksC, {d: shapes[kind], transform: 'translate(' + cx.toFixed(1) + ',' + cy.toFixed(1) + ')', fill: '#000'});
  }
  
  
}
const fuels = [
  ['circle', ponderosaPine, 'ponderosa-pine', 902.5],
  ['square', lodgepolePine, 'lodgepole-pine', 946.5],
  ['up', engelmannSpruce, 'engelmann-spruce', 990],
  ['down', douglasFir, 'douglas-fir', 1036.4],
  ['subalpine', subalpineFir, 'subalpine-fir', 1081.4],
  ['left', loblollyPine, 'loblolly-pine', 1126.3],
  ['right', manzanita, 'manzanita', 1171.3],
  ['diamond', chamise, 'chamise', 1215.3],
  ['circle', sage, 'sage', 1261.2],
  ['juniper', juniper, 'juniper', 1306.2],
  ['ceanothus', ceanothus, 'ceanothus', 1349.7],
  ['excelsior', excelsior, 'excelsior', 1393.7],
  ['star', bearGrass, 'bear-grass', 1440.1]
];
fuels.forEach(f => {
  for (let i = 0; i < f[1].length; i += 2) {
    drawMarker(f[0], xC(f[1][i]), yC(f[1][i + 1]), f[2] + '-point');
  }
  drawMarker(f[0], 1820, f[3], 'legend-marker-' + f[2]);
});

function tick(x1, y1, x2, y2, name) {
  const el = make('line', tickLayer, {x1: x1, y1: y1, x2: x2, y2: y2, stroke: '#222', 'stroke-width': 2.4});
  
  
}
timeTicks.forEach(t => tick(xA(t), 688, xA(t), 696, 'panel-a-x-tick'));
fractionTicks.forEach(v => tick(178, yA(v), 185, yA(v), 'panel-a-y-tick'));
mceRightTicks.forEach(m => tick(1825, yM(m), 1832, yM(m), 'panel-a-right-tick'));
mceBottomTicks.forEach(m => tick(xB(m), 1463, xB(m), 1471, 'panel-b-x-tick'));
fractionTicks.forEach(v => tick(175, yB(v), 182, yB(v), 'panel-b-y-tick'));
mceBottomTicks.forEach(m => tick(xC(m), 1468, xC(m), 1475, 'panel-c-x-tick'));
fractionTicks.forEach(v => tick(1088, yC(v), 1095, yC(v), 'panel-c-y-tick'));
</script>
</body>
</html>
